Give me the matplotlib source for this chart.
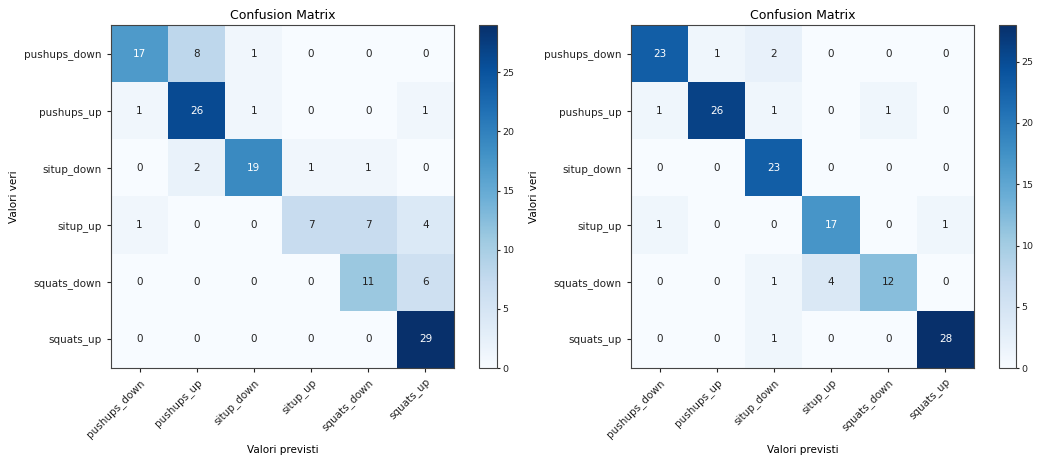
import numpy as np
import matplotlib
matplotlib.use("Agg")
import matplotlib.pyplot as plt

classes = ["pushups_down", "pushups_up", "situp_down", "situp_up", "squats_down", "squats_up"]

cm_left = np.array([
    [17, 8, 1, 0, 0, 0],
    [1, 26, 1, 0, 0, 1],
    [0, 2, 19, 1, 1, 0],
    [1, 0, 0, 7, 7, 4],
    [0, 0, 0, 0, 11, 6],
    [0, 0, 0, 0, 0, 29],
])

cm_right = np.array([
    [23, 1, 2, 0, 0, 0],
    [1, 26, 1, 0, 1, 0],
    [0, 0, 23, 0, 0, 0],
    [1, 0, 0, 17, 0, 1],
    [0, 0, 1, 4, 12, 0],
    [0, 0, 1, 0, 0, 28],
])

W, H = 1037, 457
fig = plt.figure(figsize=(W / 100, H / 100), dpi=100)
plt.rcParams["font.family"] = "DejaVu Sans"

edge = "#444444"


def draw_cm(cm, ax_rect, cb_rect):
    ax = fig.add_axes(ax_rect)
    cax = fig.add_axes(cb_rect)
    im = ax.imshow(cm, interpolation="nearest", cmap="Blues", aspect="auto")
    cb = fig.colorbar(im, cax=cax, ticks=[0, 5, 10, 15, 20, 25])
    cb.ax.tick_params(labelsize=6.8, colors="#222222", length=2.5, pad=1.5)
    cb.outline.set_edgecolor(edge)
    ax.set_title("Confusion Matrix", fontsize=9, pad=4)
    ticks = np.arange(len(classes))
    ax.set_xticks(ticks)
    ax.set_yticks(ticks)
    ax.set_xticklabels(classes, rotation=45, ha="right", rotation_mode="anchor")
    ax.set_yticklabels(classes)
    ax.tick_params(labelsize=7.5, colors="#222222", length=3)
    for s in ax.spines.values():
        s.set_edgecolor(edge)
    thresh = cm.max() / 2.0
    for i in range(cm.shape[0]):
        for j in range(cm.shape[1]):
            ax.text(j, i, format(cm[i, j], "d"), ha="center", va="center",
                    fontsize=7.5,
                    color="white" if cm[i, j] > thresh else "#222222")
    ax.set_ylabel("Valori veri", fontsize=7.5)
    ax.set_xlabel("Valori previsti", fontsize=7.5)
    return ax


draw_cm(cm_left,
        [111 / W, 1 - 368 / H, 343 / W, 343 / H],
        [479 / W, 1 - 368 / H, 18 / W, 343 / H])
draw_cm(cm_right,
        [631 / W, 1 - 368 / H, 343 / W, 343 / H],
        [999 / W, 1 - 368 / H, 17 / W, 343 / H])

fig.savefig("out.png", dpi=100)
